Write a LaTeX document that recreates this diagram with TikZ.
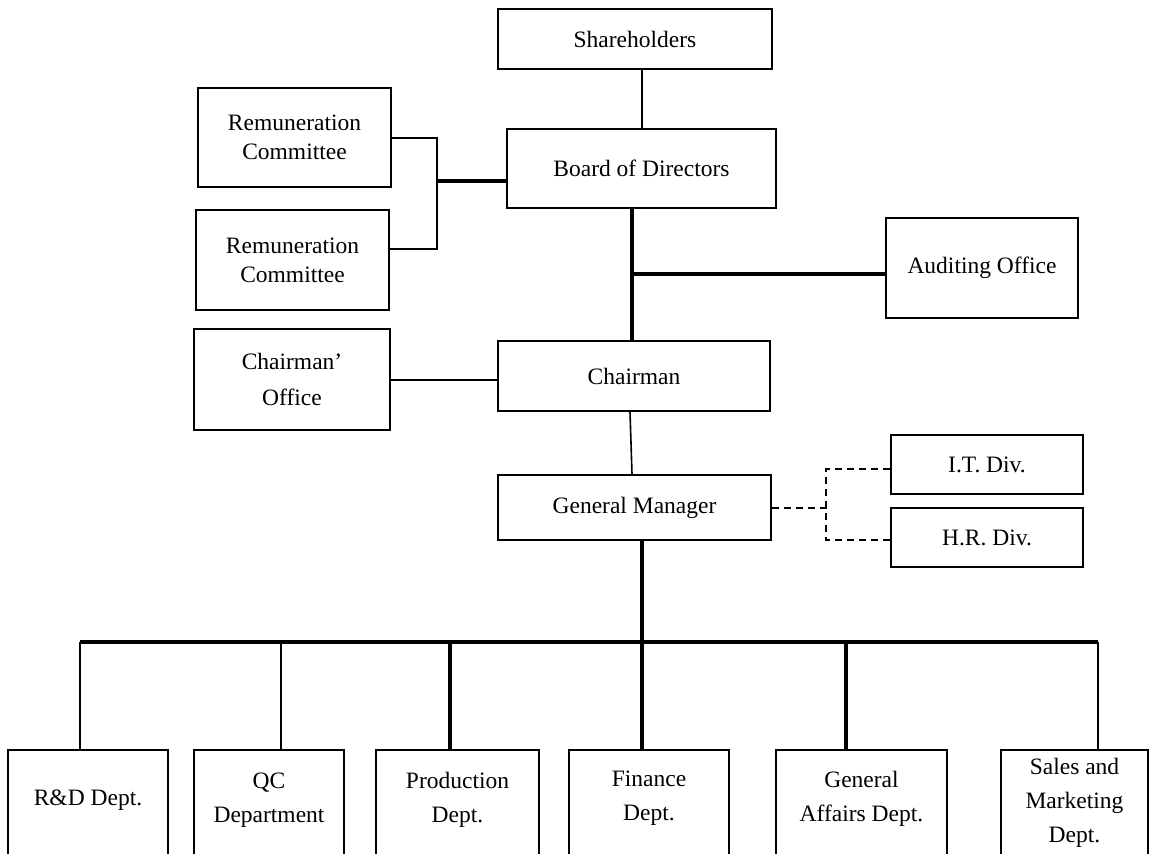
\documentclass[tikz,border=0pt]{standalone}
\usepackage{fontspec}
\setmainfont{Liberation Serif}
\begin{document}
\begin{tikzpicture}[x=1pt,y=-1pt,
  box/.style={draw, line width=2pt, inner sep=0pt, align=center,
    font=\fontsize{23.5}{29}\selectfont},
  dept/.style={draw, line width=2pt, inner sep=0pt, anchor=north, minimum height=200pt},
  dtext/.style={align=center, font=\fontsize{23.5}{34}\selectfont},
  thinc/.style={line width=2pt},
  thickc/.style={line width=3.2pt},
  dashc/.style={line width=2pt, dash pattern=on 7pt off 5pt}]
\useasboundingbox (0,0) rectangle (1154,854);
\clip (0,0) rectangle (1154,854);

% upper boxes
\node[box, minimum width=274pt, minimum height=60pt] (sh) at (635,39) {Shareholders};
\node[box, minimum width=269pt, minimum height=79pt] (bd) at (641.5,168.5) {Board of Directors};
\node[box, minimum width=193pt, minimum height=99pt] (rc1) at (294.5,137.5) {Remuneration\\ Committee};
\node[box, minimum width=193pt, minimum height=100pt] (rc2) at (292.5,260) {Remuneration\\ Committee};
\node[box, minimum width=192pt, minimum height=100pt] (au) at (982,268) {Auditing Office};
\node[box, minimum width=196pt, minimum height=101pt, font=\fontsize{23.5}{36}\selectfont] (co) at (292,379.5) {Chairman’\\Office};
\node[box, minimum width=272pt, minimum height=70pt] (ch) at (634,376) {Chairman};
\node[box, minimum width=273pt, minimum height=65pt] (gm) at (634.5,507.5) {General Manager};
\node[box, minimum width=192pt, minimum height=59pt] (it) at (987,464.5) {I.T. Div.};
\node[box, minimum width=192pt, minimum height=59pt] (hr) at (987,537.5) {H.R. Div.};

% departments (cut by the lower edge)
\node[dept, minimum width=160pt, label={[dtext, anchor=center, yshift=-51pt]north:{R\&D Dept.}}] (rd) at (88,749) {};
\node[dept, minimum width=150pt, label={[dtext, anchor=center, yshift=-51pt]north:{QC\\Department}}] (qc) at (269,749) {};
\node[dept, minimum width=163pt, label={[dtext, anchor=center, yshift=-51pt]north:{Production\\Dept.}}] (pr) at (457.5,749) {};
\node[dept, minimum width=160pt, label={[dtext, anchor=center, yshift=-49.5pt]north:{Finance\\Dept.}}] (fi) at (649,749) {};
\node[dept, minimum width=171pt, label={[dtext, anchor=center, yshift=-49.5pt]north:{General\\Affairs Dept.}}] (ga) at (861.5,749) {};
\node[dept, minimum width=147pt, label={[dtext, anchor=center, yshift=-54pt]north:{Sales and\\Marketing\\Dept.}}] (sm) at (1074.5,749) {};

% connectors
\coordinate (rj) at (437,181);
\coordinate (aj) at (632,274);
\coordinate (dj) at (826,507.5);
\coordinate (b1) at (80,642);
\coordinate (b2) at (281,642);
\coordinate (b3) at (450,642);
\coordinate (b4) at (642,642);
\coordinate (b5) at (846,642);
\coordinate (b6) at (1098,642);

\draw[thinc] (bd.north) -- (bd.north |- sh.south);
\draw[thinc] (rc1.east) -| (rj) |- ([yshift=11pt]rc2.east);
\draw[thickc] (rj) -- (rj -| bd.west);
\draw[thickc] (bd.south -| aj) -- (ch.north -| aj);
\draw[thickc] (aj) -- (aj -| au.west);
\draw[thinc] (co.east) -- (co.east -| ch.west);
\draw[line width=1.6pt] ([xshift=-4pt]ch.south) -- ([xshift=-2.5pt]gm.north);
\draw[dashc] (gm.east) -- (dj);
\draw[dashc] ([yshift=-4.5pt]it.west) -| (dj) |- ([yshift=-2.5pt]hr.west);
\draw[thickc] (gm.south -| b4) -- (b4);
\draw[thickc] (b1) -- (b6);
\draw[line width=2.4pt] (b1) -- (b1 |- rd.north);
\draw[line width=2pt] (b2) -- (b2 |- qc.north);
\draw[thickc] (b3) -- (b3 |- pr.north);
\draw[thickc] (b4) -- (b4 |- fi.north);
\draw[thickc] (b5) -- (b5 |- ga.north);
\draw[line width=2.6pt] (b6) -- (b6 |- sm.north);
\end{tikzpicture}
\end{document}
